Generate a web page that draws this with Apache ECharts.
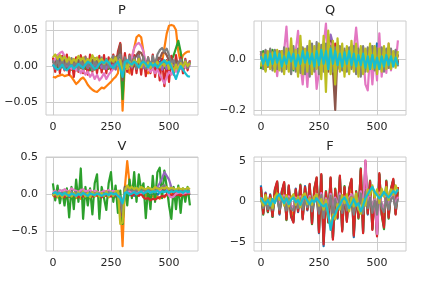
<!DOCTYPE html>
<html><head><meta charset="utf-8">
<script src="https://cdn.jsdelivr.net/npm/echarts@6/dist/echarts.min.js"></script>
<style>html,body{margin:0;padding:0;background:#fff}#c{width:432px;height:288px}</style>
</head><body><div id="c"></div>
<script>
const xs = [0,10,20,30,40,50,60,70,80,90,100,110,120,130,140,150,160,170,180,190,200,210,220,230,240,250,260,270,280,290,300,310,320,330,340,350,360,370,380,390,400,410,420,430,440,450,460,470,480,490,500,510,520,530,540,550,560,570,580,590];
const xTicks = [0,250,500];
const pYTicks = [-0.05,0,0.05];
const qYTicks = [-0.2,0];
const vYTicks = [-0.5,0,0.5];
const fYTicks = [-5,0,5];

// ---- P ----
const pBlue=[.005,.008,.002,.01,.004,.009,.003,.007,.001,.006,.004,.008,.002,.006,.003,.007,.001,.005,.002,.006,.003,.008,.004,.007,.002,.006,.001,.005,.003,.01,.004,.008,.002,.006,.004,.009,.003,.007,.002,.006,.004,.008,.002,.007,.003,.009,.004,.01,.005,.008,.003,.007,.002,.006,.003,.005,.002,.004,.003,.005];
const pOrange=[-.015,-.016,-.014,-.013,-.012,-.014,-.013,-.012,-.015,-.02,-.025,-.022,-.018,-.016,-.02,-.026,-.03,-.033,-.035,-.036,-.033,-.03,-.031,-.028,-.025,-.022,-.018,-.015,-.01,.03,-.062,.005,-.005,-.01,.01,.025,.04,.043,.04,.02,-.008,-.01,-.005,0,.002,-.003,0,.005,.025,.045,.056,.057,.056,.05,.02,.005,.015,.018,.02,.02];
const pGreen=[0,.004,-.003,.005,-.002,.006,-.004,.003,-.005,.002,-.006,.004,-.003,.005,-.004,.002,-.006,.003,-.005,.004,-.003,.005,-.002,.006,-.004,.003,-.002,.005,.008,.02,-.046,.01,-.005,.004,-.006,.003,-.004,.005,-.003,.006,-.002,.004,-.005,.003,-.006,.002,-.004,.005,-.003,.006,.002,.008,.015,.025,.035,.02,-.005,.003,-.002,.004];
const pRed=[.012,-.008,.015,-.01,.014,-.006,.016,-.012,.01,-.015,.012,-.008,.015,-.01,.013,-.012,.016,-.008,.011,-.01,.014,-.009,.015,-.01,.012,-.006,.016,-.004,.02,.032,-.01,.018,-.008,.016,-.012,.015,-.01,.017,-.012,.015,-.014,.012,-.01,.016,-.015,.012,-.02,.01,-.028,.008,-.022,.014,-.012,.015,-.008,.012,-.01,.01,-.006,.008];
const pPurple=[.002,-.004,.006,-.002,.004,-.005,.003,-.003,.005,-.004,.002,-.006,.004,-.002,.005,-.003,.003,-.005,.004,-.002,.006,-.003,.002,-.004,.005,-.002,.003,-.005,.004,.008,-.01,.006,-.003,.004,-.002,.01,.015,.012,.005,-.003,.004,-.002,.003,-.004,.005,-.003,.004,-.005,.003,-.004,.005,-.002,.004,-.003,.002,-.004,.003,-.002,.004,-.001];
const pBrown=[.004,.008,.002,.006,0,.007,.003,.009,.002,.006,.001,.008,.003,.007,0,.006,.002,.009,.004,.007,.001,.008,.003,.006,.002,.009,.004,.012,.015,.03,-.02,.01,.004,.008,.002,.01,.015,.02,.018,.012,.004,.008,.002,.009,.005,.012,.01,.018,.02,.015,.008,.01,.004,.008,.002,.006,.001,.005,.003,.006];
const pPink=[.005,.01,.015,.018,.02,.014,.008,.002,-.004,0,-.006,-.002,-.01,-.005,-.012,-.008,-.015,-.01,-.018,-.012,-.02,-.016,-.01,-.018,-.012,-.008,-.004,0,.004,.01,-.005,.002,-.004,.005,.012,.025,.03,.032,.028,.02,.005,-.002,-.008,-.004,-.01,-.005,-.012,-.018,-.024,-.015,-.008,-.012,-.004,-.008,.002,-.004,.003,-.002,.004,0];
const pGray=[.008,-.003,.01,-.002,.012,-.004,.009,-.002,.011,-.003,.008,-.005,.01,-.004,.012,-.002,.009,-.006,.011,-.003,.008,.012,-.004,.01,-.002,.009,.014,-.004,.012,.016,-.006,.012,-.002,.014,0,.012,-.004,.015,0,.013,-.004,.012,-.002,.014,0,.016,.022,.025,.02,.024,.015,.004,.008,-.002,.005,.009,-.002,.008,-.003,.006];
const pOlive=[.012,.016,.01,.015,.008,.013,.006,.012,.004,.01,.006,.014,.008,.012,.004,.01,.006,.015,.008,.012,.005,.01,.003,.008,.004,.01,.006,.012,.002,.008,-.01,.004,-.004,.006,0,.008,.002,.01,-.002,.006,0,.005,-.003,.004,.001,.006,-.002,.005,0,.007,-.004,.003,-.008,.002,-.006,.004,-.002,.006,0,.004];
const pCyan=[.002,-.002,-.005,-.003,.002,-.004,-.006,-.002,.001,-.004,-.001,.003,0,-.003,.002,.006,.004,0,-.004,-.002,.003,.006,.004,.008,.005,0,-.003,.002,.006,-.004,-.015,.005,.008,.004,.002,.006,.003,-.002,.004,.006,.003,-.002,.004,0,.003,-.002,.002,.005,.008,.003,.006,-.002,-.01,-.018,-.008,0,-.005,-.01,-.014,-.015];

// ---- Q ----
const qBlue=[.03,-.02,.02,-.03,.025,-.015,.03,-.025,.02,-.02,.03,-.03,.025,-.02,.03,-.025,.02,-.03,.035,-.02,.03,-.03,.025,-.02,.03,-.025,.035,-.03,.04,-.02,.05,-.04,.03,-.025,.035,-.02,.03,-.03,.025,-.02,.03,-.025,.035,-.02,.03,-.025,.04,-.02,.05,-.015,.06,-.02,.03,-.025,.035,-.02,.03,-.02,.025,-.02];
const qOrange=[.03,-.035,.025,-.03,.035,-.025,.03,-.035,.02,-.03,.03,-.025,.035,-.03,.025,-.02,.03,-.035,.04,-.03,.025,-.02,.03,-.025,.035,-.03,.03,-.025,.04,.07,.08,-.05,.04,-.02,.035,-.03,.03,-.025,.04,-.03,.035,-.02,.03,-.025,.045,-.03,.03,-.02,.035,-.025,.04,-.03,.03,-.02,.035,-.025,.03,-.02,.025,-.015];
const qGreen=[-.04,.03,-.045,.025,-.03,.035,-.04,.02,-.035,.03,-.04,.025,-.03,.035,-.045,.02,-.035,.03,-.04,.025,-.03,.035,-.04,.03,-.035,.025,-.03,.04,-.035,.05,.085,-.06,.03,-.035,.04,-.03,.025,-.04,.03,-.035,.04,-.03,.035,-.025,.03,-.04,.025,-.03,.035,-.04,.03,-.025,.04,-.03,.025,-.035,.03,-.025,.03,-.02];
const qRed=[.02,-.03,.03,-.02,.025,-.035,.02,-.025,.03,-.03,.025,-.02,.03,-.035,.02,-.03,.025,-.02,.03,-.035,.025,-.03,.02,-.025,.03,-.02,.04,-.03,.045,-.02,.08,-.05,.06,-.03,.04,-.035,.03,-.02,.035,-.03,.025,-.02,.03,-.035,.025,-.02,.03,-.03,.04,-.025,.035,-.02,.03,-.03,.025,-.02,.03,-.025,.02,-.02];
const qPurple=[.025,-.02,.02,-.025,.03,-.02,.025,-.03,.02,-.02,.025,-.025,.03,-.02,.02,-.025,.03,-.02,.025,-.03,.02,-.02,.025,-.025,.03,-.02,.035,-.025,.05,-.02,.095,.06,-.03,.04,-.02,.03,-.025,.02,-.02,.025,-.03,.02,-.02,.025,-.025,.03,-.02,.025,-.02,.03,-.025,.02,-.02,.025,-.02,.03,-.02,.02,-.02,.02];
const qBrown=[.02,-.025,.015,-.03,.02,-.025,.025,-.02,.015,-.03,.02,-.025,.025,-.02,.02,-.03,.015,-.025,.02,-.02,.025,-.03,.02,-.025,.015,-.02,.025,-.03,.04,-.05,.07,-.04,-.2,.03,-.02,.025,-.03,.02,-.025,.015,-.02,.025,-.03,.02,-.025,.015,-.02,.025,-.03,.02,-.025,.02,-.02,.025,-.02,.015,-.02,.02,-.015,.015];
const qPink=[.02,-.02,.02,-.02,.015,-.03,.02,-.068,.02,-.02,.03,.126,-.03,.02,-.03,.03,.109,-.02,-.1,.02,-.11,.02,-.03,.03,-.118,-.05,.03,.05,.138,-.03,.06,-.03,.04,-.03,.02,-.02,.03,-.02,.03,-.02,.03,.122,.02,-.03,.02,-.1,-.124,.02,-.1,.02,-.085,.1,-.07,.03,-.055,.06,-.045,.02,-.02,.072];
const qGray=[.03,-.04,.035,-.03,.04,-.045,.035,-.04,.03,-.05,.045,-.04,.04,-.06,.05,-.05,.04,-.055,.045,-.06,.05,-.07,.06,-.05,.065,-.06,.055,-.05,.06,-.04,.05,-.05,.045,-.04,.05,-.045,.04,-.05,.045,-.04,.05,-.06,.04,-.07,.05,-.05,.045,-.04,.05,-.045,.04,-.04,.045,-.05,.04,-.035,.04,-.03,.035,-.03];
const qOlive=[-.03,.02,-.05,.03,-.04,.025,-.05,.035,-.045,.03,-.06,.04,-.05,.08,-.04,.035,-.07,.09,-.06,.04,-.05,.07,-.06,.05,-.04,.06,-.08,.09,-.13,.11,-.06,.07,-.1,.08,-.05,.06,-.07,.05,-.06,.07,-.05,.06,-.07,.05,-.06,.04,-.05,.06,-.04,.05,-.06,.04,-.05,.05,-.04,.06,-.04,.03,-.035,.03];
const qCyan=[.01,-.02,.015,-.025,.02,-.02,.025,-.015,.02,-.03,.01,-.02,.025,-.01,.02,-.03,.015,-.02,.03,-.015,.025,-.02,.02,-.03,.03,-.025,.035,-.02,.03,-.04,.04,-.02,.03,-.025,.02,-.03,.025,-.02,.03,-.025,.02,-.03,.015,-.025,.02,-.035,.01,-.04,.015,-.035,.005,-.04,.01,-.03,.015,-.025,.01,-.03,.005,-.025];

// ---- V ----
const vBlue=[.02,-.02,.03,-.01,.02,-.02,.01,-.03,.02,-.01,.03,-.02,.01,-.02,.02,-.01,.03,-.02,.02,-.01,.01,-.02,.02,-.01,.03,-.02,.02,-.03,.01,-.05,-.15,.05,.02,-.01,.03,-.02,.02,-.01,.03,-.02,.02,-.01,.02,-.02,.03,-.01,.04,.02,.05,.03,.02,-.01,.03,-.02,.02,-.01,.03,-.02,.02,-.01];
const vOrange=[-.03,.01,-.04,.02,-.03,0,-.05,.01,-.04,.02,-.05,0,-.06,.01,-.05,.02,-.04,0,-.03,.01,-.04,.02,-.03,0,-.04,.01,-.05,.02,-.03,-.1,-.7,.1,.45,.15,.05,.02,0,.03,.01,.02,-.02,.01,-.04,-.02,-.05,-.03,-.06,-.02,-.04,0,-.02,.01,-.01,.02,0,.01,-.01,.02,0,.01];
const vGreen=[.15,-.08,.12,-.12,.05,-.15,.08,-.31,.1,-.2,.2,-.1,.35,-.33,.1,-.15,.08,-.27,.15,.27,-.33,.1,-.05,-.21,.15,.3,-.1,.12,-.25,.05,-.4,.1,-.15,.2,-.05,.3,-.1,.27,.05,.15,-.32,.1,-.2,.25,-.1,.3,.36,-.05,.32,.1,-.15,-.33,.1,-.2,.12,-.25,.08,-.1,.1,-.15];
const vRed=[0,-.03,.02,-.02,.01,-.04,.02,-.03,.01,-.02,0,-.04,.02,-.03,.01,-.02,0,-.03,.02,-.02,.01,-.04,0,-.02,.01,-.03,.02,-.02,0,-.08,-.2,.05,.08,.02,-.02,.01,0,-.02,.01,-.04,-.06,-.05,-.08,-.06,-.07,-.05,-.04,-.02,-.03,0,.01,-.02,.02,-.01,0,-.02,.01,-.01,.02,0];
const vPurple=[.03,0,.02,.01,.03,0,.04,.02,.03,.01,.02,0,.04,.01,.03,.02,0,.03,.01,.02,0,.03,.01,.02,.03,.01,.04,.02,.03,-.1,-.3,.05,.08,.04,.05,.03,.06,.04,.05,.03,.04,.06,.05,.07,.08,.1,.15,.22,.3,.25,.2,.1,.06,.04,.05,.03,.04,.02,.04,.03];
const vBrown=[.02,-.01,.01,-.02,.02,0,-.01,.02,0,-.02,.01,.03,0,-.01,.02,0,-.02,.01,0,.02,-.01,.01,0,-.02,.02,0,.01,-.02,0,-.1,-.3,.1,.05,.06,.04,.05,.03,.06,.04,.05,.07,.05,.06,.04,.05,.07,.08,.06,.07,.05,.06,.04,.05,.03,.04,.05,.03,.04,.03,.04];
const vPink=[.03,.05,.02,.06,.04,.07,.05,.04,.08,.06,.05,.03,.06,.07,.04,.05,.06,.03,.05,.04,.02,.03,.05,.04,.06,.03,.05,.04,.03,-.05,-.2,.04,.03,.05,.02,.04,.03,.05,.02,.04,.03,.05,.02,.06,.03,.05,.04,.1,.12,.08,-.02,-.04,-.03,.01,.02,.03,.01,.02,.03,.02];
const vGray=[.02,0,.03,.01,.02,-.01,.03,0,.02,.01,.03,0,.02,.01,0,.02,.01,.03,0,.02,.01,0,.02,.01,.03,0,.02,.01,.03,-.05,-.25,.08,.06,.07,.05,.06,.04,.07,.05,.06,.04,.07,.06,.05,.08,.07,.09,.1,.12,.09,.07,.06,.08,.05,.07,.06,.05,.07,.06,.05];
const vOlive=[-.02,.03,-.03,.02,-.04,.03,-.02,.04,-.03,.02,-.03,.03,-.02,.04,-.03,.02,-.04,.03,-.02,.03,-.03,.02,-.02,.04,-.03,.03,-.02,.04,.05,-.4,-.38,.05,.12,.08,.1,.07,.09,.06,.1,.08,.07,.09,.08,.06,.1,.08,.07,.09,.08,.1,.07,.09,.08,.06,.09,.07,.08,.06,.09,.07];
const vCyan=[.01,.03,0,.02,-.01,.02,0,-.02,.01,0,-.02,.01,-.01,.02,0,-.02,.01,0,-.01,.01,0,-.02,0,.01,-.01,.02,0,.01,-.02,-.05,-.12,.02,.03,0,.01,.03,0,.02,.04,.01,.03,.05,.02,.04,.03,.05,.02,.04,.03,.05,.02,.04,.03,.05,.03,.04,.02,.05,.03,.04];

// ---- F ----
const fBlue=[2.0,-1.4,1.1,-1.3,.9,-1.9,1.4,2.3,-1.6,1.3,2.2,-2.1,1.9,-1.9,-2.5,1.6,-1.3,1.9,-2.1,1.9,-1.1,2.0,-2.6,1.4,2.8,-3.9,3.2,-5.5,1.1,-2.4,2.8,-4.5,1.4,-2.1,3.0,-3.5,1.7,-2.4,1.4,2.6,-4.4,1.1,-1.9,3.8,-3.7,4.6,-1.6,2.4,-3.3,1.1,-4.1,3.3,-1.4,-3.0,2.4,-1.9,1.4,2.6,-1.5,1.7];
const fOrange=[1.2,-1.0,.8,-.9,.6,-1.2,1.0,1.6,-1.1,.9,1.5,-1.4,1.3,-1.2,-1.7,1.0,-.8,1.3,-1.5,1.2,-.7,1.4,-1.8,1.0,2.0,-2.6,2.2,-3.5,.8,-1.6,2.0,-3.0,1.0,-1.3,2.1,-2.4,1.2,-1.6,1.0,1.9,-2.8,.8,-1.3,2.6,-2.5,3.2,-1.0,1.7,-2.3,.7,-2.8,2.3,-1.0,-2.1,1.7,-1.3,1.0,1.9,-1.0,1.2];
const fGreen=[1.6,-1.6,.9,-1.3,.7,-1.9,1.3,2.4,-1.4,1.1,2.3,-2.3,1.8,-1.7,-2.4,1.4,-1.1,2.1,-2.0,1.7,-.9,2.1,-2.8,1.6,2.9,-3.6,3.3,-4.9,1.3,-2.6,2.9,-4.5,1.6,-1.9,3.1,-3.5,1.9,-2.3,1.6,2.7,-4.0,1.3,-2.1,4.1,-3.8,4.7,-1.4,2.6,-3.4,.9,-4.1,3.4,-1.6,-3.4,2.6,-2.1,1.6,2.7,-1.5,1.6];
const fRed=[1.8,-1.5,1.0,-1.2,.8,-1.8,1.5,2.5,-1.5,1.2,2.4,-2.2,2.0,-1.8,-2.6,1.5,-1.2,2.0,-2.2,1.8,-1.0,2.2,-2.7,1.5,3.0,-3.8,3.4,-5.3,1.2,-2.5,3.0,-4.7,1.5,-2.0,3.2,-3.7,1.8,-2.5,1.5,2.8,-4.2,1.2,-2.0,4.0,-3.9,5.0,-1.5,2.5,-3.5,1.0,-4.3,3.5,-1.5,-3.2,2.5,-2.0,1.5,2.8,-1.6,1.8];
const fPurple=[.5,-.4,.35,-.5,.25,-.55,.45,.75,-.5,.4,.7,-.65,.6,-.55,-.8,.45,-.35,.6,-.7,.55,-.3,.65,-.85,.45,.9,-1.2,1.0,-1.6,.35,-.75,.9,-1.4,.45,-.6,.95,-1.1,.55,-.75,.45,.85,-1.3,.35,-.6,1.2,-1.15,1.5,-.45,.75,-1.05,.3,-1.3,1.05,-.45,-.95,.75,-.6,.45,.85,-.45,.55];
const fBrown=[.4,-.55,.3,-.4,.2,-.65,.4,.65,-.6,.35,.6,-.75,.5,-.65,-.7,.35,-.45,.5,-.8,.45,-.4,.55,-.95,.35,.8,-1.3,.9,-1.7,.25,-.85,.8,-1.5,.35,-.7,.85,-1.2,.45,-.85,.35,.75,-1.4,.25,-.7,1.1,-1.25,1.4,-.55,.65,-1.15,.2,-1.4,.95,-.55,-1.05,.65,-.7,.35,.75,-.55,.45];
const fPink=[.5,-.4,.3,-.35,.25,-.5,.45,.8,-.4,.4,.75,-.6,.65,-.5,-.75,.5,-.35,.65,-.65,.6,-.3,.7,-.8,.5,.95,-1.1,1.05,-1.5,.4,-.7,.95,-1.4,.5,-.6,1.0,-1.1,.6,-.75,.5,.9,-1.25,.4,-.6,1.25,-1.15,5.1,-.45,.8,-1.05,.35,-4.0,1.1,-.45,-.95,.8,-.6,.5,.9,-.45,.6];
const fGray=[.3,-.8,.2,-.9,.1,-1.0,.3,.5,-1.0,.3,.5,-1.1,.4,-.9,-1.1,.3,-.8,.4,-1.0,.4,-.7,.5,-1.2,.3,.7,-1.5,.8,-2.0,.2,-1.1,.7,-1.8,.3,-1.0,.7,-1.4,.4,-1.1,.3,.6,-1.6,.2,-1.0,1.0,-1.5,1.2,-.8,.5,-1.4,.1,-1.6,.8,-.8,-1.3,.5,-1.0,.3,.6,-.8,.3];
const fOlive=[.3,-.5,.8,-.3,.4,-.8,.6,1.0,.2,.7,-.5,.8,-.6,.5,.9,-.4,.6,-.7,.8,1.0,-.3,.4,-.4,.6,.9,-.5,.3,-1.0,.2,-1.8,-3.0,-1.6,-2.2,-.3,-1.0,.8,-.2,.9,-1.2,.5,-.6,1.0,-.9,-1.5,.3,-.5,1.5,.8,2.0,.5,1.5,-.2,1.6,.6,1.8,.2,1.5,.8,2.0,1.2];
const fCyan=[.5,0,-.3,.2,-.5,.3,-.2,.6,.9,.3,-.2,.4,-.3,.2,.5,-.1,.2,-.4,.3,.6,.1,-.3,.2,-.1,.4,0,-.4,-.6,-.3,-1.5,-3.5,-2.0,-1.5,-.8,-.4,.2,.5,0,-.8,-.3,.3,-.5,-.2,-1.2,-.5,.4,.9,1.4,1.8,1.2,.8,.4,.7,1.2,.8,.5,.9,1.3,1.0,1.5];

const colors=['#1f77b4','#ff7f0e','#2ca02c','#d62728','#9467bd','#8c564b','#e377c2','#7f7f7f','#bcbd22','#17becf'];
const FONT='DejaVu Sans', INK='#262626', GRIDC='#cccccc';
const minus=s=>s.replace('-','\u2212');

const panels=[
 {title:'P',box:[46,21,152,94],ymin:-0.068,ymax:0.0625,yt:pYTicks,dec:2,
  s:[pBlue,pOrange,pGreen,pRed,pPurple,pBrown,pPink,pGray,pOlive,pCyan]},
 {title:'Q',box:[254,21,152,94],ymin:-0.22,ymax:0.148,yt:qYTicks,dec:1,
  s:[qBlue,qOrange,qGreen,qRed,qPurple,qBrown,qPink,qGray,qOlive,qCyan]},
 {title:'V',box:[46,157,152,94],ymin:-0.765,ymax:0.505,yt:vYTicks,dec:1,
  s:[vBlue,vOrange,vGreen,vRed,vPurple,vBrown,vPink,vGray,vOlive,vCyan]},
 {title:'F',box:[254,157,152,94],ymin:-6.1,ymax:5.5,yt:fYTicks,dec:0,
  s:[fBlue,fOrange,fGreen,fRed,fPurple,fBrown,fPink,fGray,fOlive,fCyan]}
];

const option={animation:false,backgroundColor:'#ffffff',title:[],grid:[],xAxis:[],yAxis:[],series:[]};
panels.forEach((p,gi)=>{
  const [l,t,w,h]=p.box;
  option.title.push({text:p.title,left:l+w/2,top:t-17,textAlign:'center',padding:0,
    textStyle:{fontFamily:FONT,fontSize:13,fontWeight:'normal',color:INK}});
  option.grid.push({left:l,top:t,width:w,height:h,show:true,borderColor:GRIDC,borderWidth:1,backgroundColor:'transparent'});
  option.xAxis.push({type:'value',gridIndex:gi,min:-29.75,max:624.75,
    axisLine:{show:false},axisTick:{show:false,customValues:xTicks},
    axisLabel:{customValues:xTicks,color:INK,fontFamily:FONT,fontSize:11,margin:7,formatter:v=>String(v)},
    splitLine:{show:true,lineStyle:{color:GRIDC,width:1}}});
  option.yAxis.push({type:'value',gridIndex:gi,min:p.ymin,max:p.ymax,
    axisLine:{show:false},axisTick:{show:false,customValues:p.yt},
    axisLabel:{customValues:p.yt,color:INK,fontFamily:FONT,fontSize:11,margin:8,formatter:v=>minus(Number(v).toFixed(p.dec))},
    splitLine:{show:true,lineStyle:{color:GRIDC,width:1}}});
  p.s.forEach((ys,k)=>{
    option.series.push({type:'line',xAxisIndex:gi,yAxisIndex:gi,showSymbol:false,silent:true,
      data:ys.map((y,i)=>[xs[i],y]),
      lineStyle:{color:colors[k],width:2.2,join:'round'},itemStyle:{color:colors[k]},
      clip:true,z:2+k});
  });
});
const chart=echarts.init(document.getElementById('c'),null,{renderer:'canvas'});
chart.setOption(option);
</script></body></html>
